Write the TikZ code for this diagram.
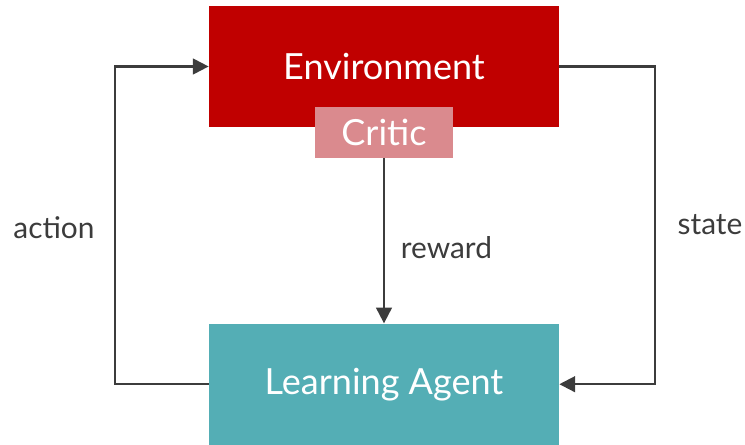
\documentclass[tikz,border=0pt]{standalone}
\usepackage{fontspec}
\setmainfont{Lato}
\usetikzlibrary{arrows.meta,positioning}
\definecolor{envred}{RGB}{192,0,0}
\definecolor{criticpink}{RGB}{218,138,142}
\definecolor{agentteal}{RGB}{84,174,181}
\definecolor{linegray}{RGB}{60,60,60}

\begin{document}
\begin{tikzpicture}[
    box/.style={fill=#1, draw=none, minimum width=7cm, minimum height=2.42cm, font=\fontsize{20.5}{24}\selectfont, text=white, align=center},
    lbl/.style={font=\fontsize{17}{20}\selectfont, text=linegray},
    >={Triangle[length=9pt,width=9pt]}
]
\useasboundingbox (0,0) rectangle (14.9,-8.9);
\node[box=envred] (env) at (7.68,-1.33) {Environment};
\node[box=agentteal, below=3.92cm of env] (agent) {Learning Agent};
\node[fill=criticpink, minimum width=2.76cm, minimum height=1.02cm, font=\fontsize{20.5}{24}\selectfont, text=white] (critic) at (7.68,-2.65) {Critic};
\draw[->, linegray, line width=1.2pt] (critic) -- node[lbl, right=0.2cm, pos=0.54] (reward) {reward} (agent);
\draw[->, linegray, line width=1.2pt] (agent.west) -- ++(-1.88,0) |- (env.west);
\draw[->, linegray, line width=1.2pt] (env.east) -- ++(1.92,0) |- (agent.east);
\node[lbl] (action) at (1.08,-4.56) {action};
\node[lbl] (state) at (14.2,-4.5) {state};
\end{tikzpicture}
\end{document}
